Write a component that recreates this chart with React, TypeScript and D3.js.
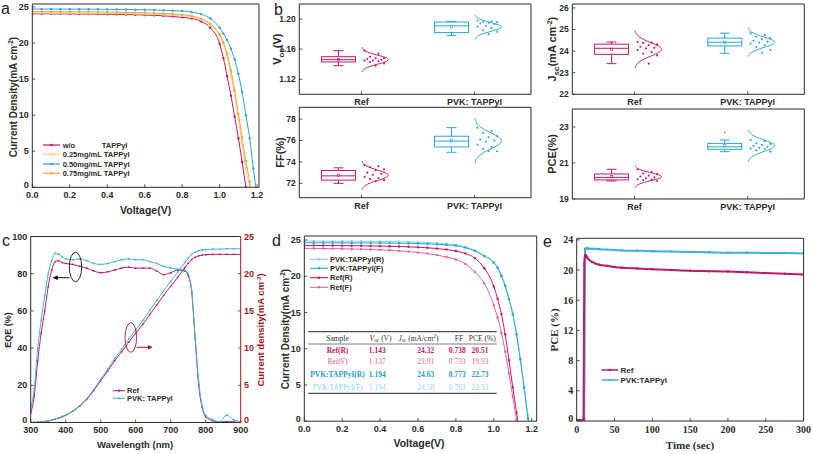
import React from "react";
import * as d3 from "d3";

const SANS = "'Liberation Sans', Arial, Helvetica, sans-serif";
const SERIF = "'Liberation Serif', 'Times New Roman', serif";
const INK = "#2b2b2b";

const C_RED = "#C4176B";
const C_CYAN = "#2AA5D6";
const C_YEL = "#F4D676";
const C_ORG = "#F1A43E";
const C_LCYAN = "#84D2EC";
const C_PINK = "#DE62A0";
const C_DRED = "#A0181E";

// ---------- panel a : J-V for TAPPyI concentrations ----------
const aVoltage = [0, 0.05, 0.1, 0.15, 0.2, 0.25, 0.3, 0.35, 0.4, 0.45, 0.5, 0.55, 0.6, 0.65, 0.7, 0.75, 0.8, 0.85, 0.9, 0.95, 1.0, 1.02, 1.04, 1.06, 1.08, 1.1, 1.12, 1.14, 1.16, 1.18, 1.2];
const aWo = [24.05, 24.05, 24.04, 24.04, 24.03, 24.02, 24.01, 24.0, 23.98, 23.96, 23.94, 23.91, 23.87, 23.82, 23.76, 23.67, 23.55, 23.38, 23.0, 22.1, 19.9, 17.9, 15.4, 12.7, 9.8, 6.8, 3.5, 0.0, null, null, null];
const a025 = [24.15, 24.15, 24.15, 24.14, 24.14, 24.13, 24.12, 24.11, 24.1, 24.08, 24.06, 24.04, 24.01, 23.97, 23.92, 23.85, 23.75, 23.58, 23.2, 22.5, 21.0, 19.8, 18.0, 15.6, 12.7, 9.4, 6.0, 2.7, 0.0, null, null];
const a050 = [24.7, 24.7, 24.7, 24.69, 24.69, 24.68, 24.68, 24.67, 24.66, 24.65, 24.64, 24.62, 24.6, 24.57, 24.53, 24.48, 24.42, 24.28, 24.0, 23.4, 22.1, 21.3, 20.4, 19.2, 17.7, 15.7, 13.2, 10.0, 6.8, 2.6, -1.5];
const a075 = [24.35, 24.35, 24.34, 24.34, 24.33, 24.32, 24.31, 24.3, 24.28, 24.26, 24.24, 24.21, 24.18, 24.14, 24.08, 24.01, 23.92, 23.75, 23.38, 22.65, 21.2, 20.1, 18.5, 16.2, 13.4, 10.2, 6.9, 3.6, 0.8, -3.0, null];
const aLabels = ["0.25mg/mL TAPPyI", "0.50mg/mL TAPPyI", "0.75mg/mL TAPPyI"];
const aXTicks = [0, 0.2, 0.4, 0.6, 0.8, 1.0, 1.2];
const aYTicks = [0, 5, 10, 15, 20, 25];

// ---------- panel b : statistics ----------
const bCategories = ["Ref", "PVK: TAPPyI"];
const vocBoxes = [[1.138, 1.143, 1.146, 1.150, 1.158], [1.178, 1.182, 1.191, 1.196, 1.197]];
const vocMeans = [1.146, 1.1895];
const vocSds = [0.0059, 0.0059];
const vocRefDots = [1.158, 1.154, 1.150, 1.148, 1.148, 1.147, 1.146, 1.145, 1.145, 1.144, 1.143, 1.141, 1.138];
const vocPvkDots = [1.198, 1.197, 1.196, 1.196, 1.195, 1.194, 1.193, 1.191, 1.190, 1.188, 1.185, 1.183, 1.180];
const vocTicks = [1.12, 1.16, 1.20];

const jscBoxes = [[23.42, 23.85, 24.13, 24.32, 24.42], [23.9, 24.24, 24.41, 24.6, 24.83]];
const jscMeans = [24.08, 24.41];
const jscSds = [0.31, 0.24];
const jscRefDots = [24.42, 24.40, 24.38, 24.32, 24.28, 24.20, 24.15, 24.12, 24.05, 23.95, 23.88, 23.80, 23.42];
const jscPvkDots = [24.82, 24.75, 24.66, 24.60, 24.55, 24.48, 24.44, 24.40, 24.35, 24.28, 24.20, 24.05, 23.92];
const jscTicks = [22, 23, 24, 25, 26];

const ffBoxes = [[72.0, 72.3, 72.7, 73.2, 73.45], [74.9, 75.4, 75.95, 76.4, 77.2]];
const ffMeans = [72.75, 75.97];
const ffSds = [0.48, 0.75];
const ffRefDots = [73.7, 73.6, 73.5, 73.3, 73.2, 73.0, 72.9, 72.8, 72.6, 72.5, 72.4, 72.3, 72.2];
const ffPvkDots = [77.2, 76.9, 76.7, 76.4, 76.3, 76.1, 76.0, 75.9, 75.6, 75.4, 75.2, 75.0, 75.0];
const ffTicks = [72, 74, 76, 78];

const pceBoxes = [[20.0, 20.06, 20.2, 20.39, 20.65], [21.63, 21.76, 21.9, 22.09, 22.28]];
const pceMeans = [20.24, 21.96];
const pceSds = [0.22, 0.32];
const pceRefDots = [20.65, 20.5, 20.42, 20.38, 20.3, 20.25, 20.2, 20.15, 20.1, 20.08, 20.05, 20.0];
const pcePvkDots = [22.28, 22.2, 22.1, 22.05, 22.0, 21.95, 21.9, 21.85, 21.8, 21.78, 21.7, 21.63];
const pceOutliers = [null, 22.7];
const pceTicks = [19, 21, 23];

// ---------- panel c : EQE ----------
const cWavelength = [300, 310, 320, 330, 340, 350, 360, 370, 380, 390, 400, 420, 440, 460, 480, 500, 520, 540, 560, 580, 600, 620, 640, 660, 680, 700, 720, 740, 750, 760, 770, 780, 790, 800, 820, 840, 860, 880, 900];
const cEqeRef = [5, 14, 33, 48, 60, 73, 82, 86.5, 87, 86, 85.5, 85, 84, 83, 81.5, 80.5, 81, 82, 83, 83.5, 83, 83, 83, 81.5, 79.5, 80.5, 82, 81.5, 79, 70, 45, 20, 8, 3, 1, 0.3, 0.5, 0.3, 0];
const cEqePvk = [8, 18, 40, 55, 68, 80, 87, 91, 90.5, 89, 88, 87.5, 88, 87, 85.5, 85, 85.5, 86.5, 87.5, 88, 87.5, 87.5, 86.5, 85.5, 84, 83, 82.5, 82, 80, 71, 45, 22, 9, 4, 1.5, 0.5, 4, 1.5, 0.5];
const cJRef = [0, 0.01, 0.03, 0.07, 0.13, 0.21, 0.32, 0.45, 0.6, 0.78, 0.95, 1.5, 2.2, 3.1, 4.3, 5.6, 6.9, 8.3, 9.5, 10.8, 12.0, 13.2, 14.5, 15.8, 17.1, 18.3, 19.5, 20.8, 21.4, 21.9, 22.2, 22.4, 22.5, 22.55, 22.6, 22.6, 22.6, 22.6, 22.6];
const cJPvk = [0, 0.01, 0.03, 0.07, 0.14, 0.22, 0.33, 0.47, 0.63, 0.81, 0.99, 1.55, 2.28, 3.2, 4.45, 5.8, 7.15, 8.6, 9.85, 11.2, 12.45, 13.7, 15.05, 16.4, 17.7, 18.95, 20.2, 21.5, 22.1, 22.6, 22.9, 23.1, 23.2, 23.25, 23.3, 23.3, 23.35, 23.35, 23.35];
const cXTicks = [300, 400, 500, 600, 700, 800, 900];
const cYTicks = [0, 20, 40, 60, 80, 100];
const cY2Ticks = [0, 5, 10, 15, 20, 25];
const cLabels = ["Ref", "PVK: TAPPyI"];

// ---------- panel d : hysteresis ----------
const dVoltage = aVoltage;
const dPvkR = [24.85, 24.85, 24.84, 24.84, 24.83, 24.83, 24.82, 24.81, 24.8, 24.78, 24.76, 24.73, 24.7, 24.65, 24.58, 24.48, 24.33, 24.05, 23.55, 22.8, 21.9, 21.1, 20.0, 18.6, 16.8, 14.8, 12.0, 8.6, 4.8, 0.8, -3];
const dPvkF = [24.62, 24.62, 24.62, 24.61, 24.61, 24.6, 24.6, 24.59, 24.58, 24.57, 24.55, 24.53, 24.5, 24.46, 24.4, 24.32, 24.2, 23.95, 23.5, 22.8, 21.9, 21.2, 20.1, 18.7, 16.9, 14.8, 12.0, 8.5, 4.6, 0.4, -3];
const dRefR = [24.25, 24.25, 24.24, 24.23, 24.22, 24.21, 24.2, 24.18, 24.16, 24.13, 24.1, 24.06, 24.0, 23.92, 23.82, 23.68, 23.48, 23.15, 22.5, 21.1, 18.6, 16.9, 14.8, 12.0, 8.4, 4.7, 1.2, -2.5, null, null, null];
const dRefF = [23.85, 23.84, 23.83, 23.81, 23.79, 23.76, 23.73, 23.69, 23.64, 23.58, 23.5, 23.4, 23.28, 23.12, 22.92, 22.65, 22.3, 21.7, 20.6, 19.0, 16.0, 14.3, 12.2, 9.6, 6.6, 3.4, 0.2, -3, null, null, null];
const dLabels = ["PVK:TAPPyI(R)", "PVK:TAPPyI(F)", "Ref(R)", "Ref(F)"];
const tSamples = ["Ref(R)", "Ref(F)", "PVK:TAPPyI(R)", "PVK:TAPPyI(F)"];
const tVoc = ["1.143", "1.137", "1.194", "1.194"];
const tJsc = ["24.32", "23.91", "24.63", "24.58"];
const tFF = ["0.738", "0.733", "0.773", "0.761"];
const tPCE = ["20.51", "19.93", "22.73", "22.33"];

// ---------- panel e : stabilized PCE ----------
const eTime = [0, 5, 9, 10, 11, 12, 13, 15, 20, 25, 30, 40, 50, 60, 80, 100, 125, 150, 175, 200, 225, 250, 275, 300];
const eRef = [0.1, 0.1, 0.2, 20.8, 21.9, 22.0, 21.8, 21.5, 21.1, 20.85, 20.7, 20.55, 20.4, 20.3, 20.2, 20.1, 20.0, 19.9, 19.85, 19.8, 19.7, 19.6, 19.5, 19.4];
const ePvk = [0.1, 0.1, 0.1, 0.2, 22.8, 22.85, 22.85, 22.85, 22.8, 22.8, 22.75, 22.7, 22.65, 22.6, 22.55, 22.5, 22.45, 22.4, 22.35, 22.3, 22.3, 22.25, 22.25, 22.2];
const eLabels = ["Ref", "PVK:TAPPyI"];
const eXTicks = [0, 50, 100, 150, 200, 250, 300];
const eYTicks = [0, 4, 8, 12, 16, 20, 24];

type Sc = d3.ScaleLinear<number, number>;

function Axes(p: { x: Sc; y: Sc; xTicks?: number[]; yTicks: number[]; xFmt?: (v: number) => string; yFmt?: (v: number) => string; font?: string; fs?: number; rightStroke?: string }) {
  const font = p.font ?? SANS;
  const fs = p.fs ?? 9;
  const [x0, x1] = p.x.range();
  const [y0, y1] = p.y.range();
  const lo = p.y.domain()[0];
  return (
    <g fontFamily={font} fontWeight="bold" fontSize={fs} fill={INK}>
      {(p.xTicks ?? []).map((t) => (
        <g key={"x" + t}>
          <line x1={p.x(t)} x2={p.x(t)} y1={y0} y2={y0 - 3} stroke={INK} strokeWidth={0.8} />
          <text x={p.x(t)} y={y0 + fs + 1.5} textAnchor="middle">{p.xFmt ? p.xFmt(t) : String(t)}</text>
        </g>
      ))}
      {p.yTicks.map((t) => (
        <g key={"y" + t}>
          <line x1={x0} x2={x0 + 3} y1={p.y(t)} y2={p.y(t)} stroke={INK} strokeWidth={0.8} />
          <text x={x0 - 3.5} y={p.y(t) - (t === lo && p.xTicks ? 2.5 : 0)} dy="0.35em" textAnchor="end">{p.yFmt ? p.yFmt(t) : String(t)}</text>
        </g>
      ))}
      <path d={`M${x1},${y0}L${x0},${y0}L${x0},${y1}L${x1},${y1}`} fill="none" stroke={INK} strokeWidth={1} />
      <line x1={x1} x2={x1} y1={y0} y2={y1} stroke={p.rightStroke ?? INK} strokeWidth={1} />
    </g>
  );
}

function Curve(p: { xs: number[]; ys: (number | null)[]; x: Sc; y: Sc; color: string; r?: number; w?: number; clip: string }) {
  const pts = p.xs.map((v, i) => [v, p.ys[i]] as [number, number | null]);
  const line = d3.line<[number, number | null]>()
    .defined((d) => d[1] != null)
    .x((d) => p.x(d[0]))
    .y((d) => p.y(d[1] as number))
    .curve(d3.curveMonotoneX);
  return (
    <g clipPath={`url(#${p.clip})`}>
      <path d={line(pts) ?? ""} fill="none" stroke={p.color} strokeWidth={p.w ?? 1} />
      {pts.filter((d) => d[1] != null).map((d, i) => (
        <circle key={i} cx={p.x(d[0])} cy={p.y(d[1] as number)} r={p.r ?? 1.3} fill={p.color} />
      ))}
    </g>
  );
}

function ClipRect({ id, x, y }: { id: string; x: Sc; y: Sc }) {
  const [x0, x1] = x.range();
  const [y0, y1] = y.range();
  return (
    <clipPath id={id}>
      <rect x={x0} y={y1} width={x1 - x0} height={y0 - y1} />
    </clipPath>
  );
}

function BoxPanel(p: {
  L: number; R: number; T: number; B: number; domain: [number, number]; ticks: number[]; fmt: (v: number) => string;
  boxes: number[][]; means: number[]; sds: number[]; dots: number[][]; outliers?: (number | null)[];
  label: React.ReactNode; labelX: number;
}) {
  const x = d3.scaleLinear().domain([0.45, 2.5]).range([p.L, p.R]);
  const y = d3.scaleLinear().domain(p.domain).range([p.B, p.T]);
  const colors = [C_RED, C_CYAN];
  const zs = d3.range(-2.8, 2.801, 0.1);
  return (
    <g>
      <Axes x={x} y={y} yTicks={p.ticks} yFmt={p.fmt} fs={8.5} />
      {bCategories.map((c, i) => {
        const cx = x(i + 1);
        const bx = cx - 23;
        const [mn, q1, md, q3, mx] = p.boxes[i];
        const col = colors[i];
        const curve = d3.line<number>()
          .x((z) => cx + Math.exp((-z * z) / 2) * 27)
          .y((z) => y(p.means[i] + z * p.sds[i]))
          .curve(d3.curveBasis)(zs);
        const out = p.outliers ? p.outliers[i] : null;
        return (
          <g key={c}>
            <line x1={cx} x2={cx} y1={p.B} y2={p.B - 3} stroke={INK} strokeWidth={0.8} />
            <text x={cx} y={p.B + 10.8} textAnchor="middle" fontFamily={SANS} fontWeight="bold" fontSize={9} fill={INK}>{c}</text>
            <g stroke={col} fill="none" strokeWidth={1}>
              <line x1={bx} x2={bx} y1={y(q3)} y2={y(mx)} />
              <line x1={bx} x2={bx} y1={y(q1)} y2={y(mn)} />
              <line x1={bx - 5} x2={bx + 5} y1={y(mx)} y2={y(mx)} />
              <line x1={bx - 5} x2={bx + 5} y1={y(mn)} y2={y(mn)} />
              <rect x={bx - 17} y={y(q3)} width={34} height={y(q1) - y(q3)} fill="white" />
              <line x1={bx - 17} x2={bx + 17} y1={y(md)} y2={y(md)} />
              <rect x={bx - 1.2} y={y(p.means[i]) - 1.2} width={2.4} height={2.4} strokeWidth={0.6} />
              <path d={curve ?? ""} />
            </g>
            {out != null && <circle cx={bx} cy={y(out)} r={0.9} fill={col} />}
            {p.dots[i].map((v, j) => (
              <circle key={j} cx={cx + 3 + ((j * 5) % 8) * 2.8} cy={y(v)} r={1.05} fill={col} />
            ))}
          </g>
        );
      })}
      <text transform={`translate(${p.labelX},${(p.T + p.B) / 2}) rotate(-90)`} textAnchor="middle" fontFamily={SANS} fontWeight="bold" fontSize={11} fill={INK}>{p.label}</text>
    </g>
  );
}

export default function App() {
  // panel a
  const ax = d3.scaleLinear().domain([0, 1.21]).range([32.3, 259]);
  const ay = d3.scaleLinear().domain([0, 25.4]).range([187.3, 4]);
  const aSeries = [
    { ys: aWo, color: C_RED },
    { ys: a025, color: C_YEL },
    { ys: a050, color: C_CYAN },
    { ys: a075, color: C_ORG },
  ];
  // panel c
  const cx = d3.scaleLinear().domain([300, 900]).range([30.7, 240.7]);
  const cy = d3.scaleLinear().domain([0, 100]).range([422.5, 236.5]);
  const cy2 = d3.scaleLinear().domain([0, 25]).range([422.5, 236.5]);
  // panel d
  const dx = d3.scaleLinear().domain([0, 1.2264]).range([304.3, 536.7]);
  const dy = d3.scaleLinear().domain([0, 25.55]).range([421.2, 236]);
  const dSeries = [
    { ys: dPvkR, color: C_LCYAN },
    { ys: dPvkF, color: C_CYAN },
    { ys: dRefR, color: C_RED },
    { ys: dRefF, color: C_PINK },
  ];
  const tColors = [C_RED, C_PINK, "#1E9DCF", "#8FD5EE"];
  const tCols = [337.5, 378, 420, 458, 481.5];
  // panel e
  const ex = d3.scaleLinear().domain([0, 300]).range([576.7, 803.6]);
  const ey = d3.scaleLinear().domain([0, 24.2]).range([421, 238.3]);

  const f1 = (v: number) => v.toFixed(1);
  const f2 = (v: number) => v.toFixed(2);
  const f0 = (v: number) => String(v);

  return (
    <div style={{ position: "absolute", left: 0, top: 0 }}>
      <svg width={813} height={454} xmlns="http://www.w3.org/2000/svg" style={{ display: "block", background: "white" }}>
        <defs>
          <ClipRect id="clipA" x={ax} y={ay} />
          <ClipRect id="clipC" x={cx} y={cy} />
          <ClipRect id="clipD" x={dx} y={dy} />
          <ClipRect id="clipE" x={ex} y={ey} />
          <marker id="arrK" viewBox="0 0 6 6" refX="5" refY="3" markerWidth="5" markerHeight="5" orient="auto">
            <path d="M0,0L6,3L0,6z" fill="#111" />
          </marker>
          <marker id="arrR" viewBox="0 0 6 6" refX="5" refY="3" markerWidth="5" markerHeight="5" orient="auto">
            <path d="M0,0L6,3L0,6z" fill={C_DRED} />
          </marker>
        </defs>

        {/* panel letters */}
        <g fontFamily={SANS} fontSize={16} fill="#222">
          <text x={1} y={14}>a</text>
          <text x={274} y={15}>b</text>
          <text x={2} y={246}>c</text>
          <text x={272} y={246}>d</text>
          <text x={543} y={247}>e</text>
        </g>

        {/* ---------------- a ---------------- */}
        <g>
          {aSeries.map((s, i) => (
            <Curve key={i} xs={aVoltage} ys={s.ys} x={ax} y={ay} color={s.color} clip="clipA" r={1.2} />
          ))}
          <Axes x={ax} y={ay} xTicks={aXTicks} yTicks={aYTicks} xFmt={f1} fs={9} />
          <text x={145.6} y={213.5} textAnchor="middle" fontFamily={SANS} fontWeight="bold" fontSize={10.5} fill={INK}>Voltage(V)</text>
          <text transform="translate(16.5,97) rotate(-90)" textAnchor="middle" fontFamily={SANS} fontWeight="bold" fontSize={10} fill={INK}>
            Current Density(mA cm<tspan dy={-3.5} fontSize={6.5}>-2</tspan><tspan dy={3.5}>)</tspan>
          </text>
          <g fontFamily={SANS} fontWeight="bold" fontSize={7.5} fill={INK}>
            {aSeries.map((s, i) => {
              const yy = [145, 154.3, 164, 173.3][i];
              return (
                <g key={i}>
                  <line x1={43} x2={60} y1={yy} y2={yy} stroke={s.color} strokeWidth={1.2} />
                  <circle cx={51.5} cy={yy} r={1.3} fill={s.color} />
                  {i === 0 ? (
                    <>
                      <text x={62.7} y={yy + 2.7}>w/o</text>
                      <text x={101.7} y={yy + 2.7}>TAPPyI</text>
                    </>
                  ) : (
                    <text x={62.7} y={yy + 2.7}>{aLabels[i - 1]}</text>
                  )}
                </g>
              );
            })}
          </g>
        </g>

        {/* ---------------- b ---------------- */}
        <BoxPanel L={299.3} R={531} T={4} B={94.3} domain={[1.10, 1.22]} ticks={vocTicks} fmt={f2}
          boxes={vocBoxes} means={vocMeans} sds={vocSds} dots={[vocRefDots, vocPvkDots]} labelX={281}
          label={<>V<tspan dy={3} fontSize={8}>oc</tspan><tspan dy={-3}>(V)</tspan></>} />
        <BoxPanel L={299.3} R={531} T={107.3} B={197.7} domain={[70.66, 79.1]} ticks={ffTicks} fmt={f0}
          boxes={ffBoxes} means={ffMeans} sds={ffSds} dots={[ffRefDots, ffPvkDots]} labelX={284}
          label={<>FF(%)</>} />
        <BoxPanel L={572.3} R={804.3} T={4} B={94.3} domain={[22, 26.18]} ticks={jscTicks} fmt={f0}
          boxes={jscBoxes} means={jscMeans} sds={jscSds} dots={[jscRefDots, jscPvkDots]} labelX={555.5}
          label={<>J<tspan dy={3} fontSize={8}>sc</tspan><tspan dy={-3}>(mA cm</tspan><tspan dy={-3.5} fontSize={7}>-2</tspan><tspan dy={3.5}>)</tspan></>} />
        <BoxPanel L={572.3} R={804.3} T={109} B={199} domain={[19, 24]} ticks={pceTicks} fmt={f0}
          boxes={pceBoxes} means={pceMeans} sds={pceSds} dots={[pceRefDots, pcePvkDots]} outliers={pceOutliers} labelX={555.5}
          label={<>PCE(%)</>} />

        {/* ---------------- c ---------------- */}
        <g>
          <Curve xs={cWavelength} ys={cEqeRef} x={cx} y={cy} color={C_RED} clip="clipC" r={0.9} />
          <Curve xs={cWavelength} ys={cEqePvk} x={cx} y={cy} color={"#3DB3DE"} clip="clipC" r={0.9} />
          <Curve xs={cWavelength} ys={cJRef} x={cx} y={cy2} color={C_RED} clip="clipC" r={0.9} />
          <Curve xs={cWavelength} ys={cJPvk} x={cx} y={cy2} color={"#3DB3DE"} clip="clipC" r={0.9} />
          <Axes x={cx} y={cy} xTicks={cXTicks} yTicks={cYTicks} fs={9} rightStroke={C_DRED} />
          <g fontFamily={SANS} fontWeight="bold" fontSize={9} fill={C_DRED}>
            {cY2Ticks.map((t) => (
              <g key={t}>
                <line x1={240.7} x2={237.7} y1={cy2(t)} y2={cy2(t)} stroke={C_DRED} strokeWidth={0.8} />
                <text x={244} y={cy2(t) - (t === 0 ? 2.5 : 0)} dy="0.35em">{t}</text>
              </g>
            ))}
            <text transform="translate(264,330) rotate(-90)" textAnchor="middle" fontSize={9.5}>
              Current density(mA cm<tspan dy={-3} fontSize={6}>-2</tspan><tspan dy={3}>)</tspan>
            </text>
          </g>
          <text x={135} y={448} textAnchor="middle" fontFamily={SANS} fontWeight="bold" fontSize={9.5} fill={INK}>Wavelength (nm)</text>
          <text transform="translate(11,330) rotate(-90)" textAnchor="middle" fontFamily={SANS} fontWeight="bold" fontSize={9} fill={INK}>EQE (%)</text>
          <ellipse cx={75.5} cy={267} rx={6.2} ry={14.7} fill="none" stroke="#111" strokeWidth={0.9} />
          <line x1={69.3} y1={277.7} x2={53.5} y2={277.7} stroke="#111" strokeWidth={1} markerEnd="url(#arrK)" />
          <ellipse cx={130.8} cy={337.5} rx={5.8} ry={14.8} fill="none" stroke={C_DRED} strokeWidth={0.9} />
          <line x1={136.6} y1={347.3} x2={151.7} y2={347.3} stroke={C_DRED} strokeWidth={1} markerEnd="url(#arrR)" />
          <g fontFamily={SANS} fontWeight="bold" fontSize={7.5} fill={INK}>
            {[C_RED, "#3DB3DE"].map((col, i) => {
              const yy = [390.7, 398.3][i];
              return (
                <g key={i}>
                  <line x1={113} x2={125} y1={yy} y2={yy} stroke={col} strokeWidth={1.1} />
                  <circle cx={119} cy={yy} r={1.1} fill={col} />
                  <text x={127} y={yy + 2.6}>{cLabels[i]}</text>
                </g>
              );
            })}
          </g>
        </g>

        {/* ---------------- d ---------------- */}
        <g>
          {dSeries.map((s, i) => (
            <Curve key={i} xs={dVoltage} ys={s.ys} x={dx} y={dy} color={s.color} clip="clipD" r={1.2} />
          ))}
          <Axes x={dx} y={dy} xTicks={aXTicks} yTicks={aYTicks} xFmt={f1} fs={9} />
          <text x={419} y={447} textAnchor="middle" fontFamily={SANS} fontWeight="bold" fontSize={10.5} fill={INK}>Voltage(V)</text>
          <text transform="translate(288.5,329) rotate(-90)" textAnchor="middle" fontFamily={SANS} fontWeight="bold" fontSize={10} fill={INK}>
            Current Density(mA cm<tspan dy={-3.5} fontSize={6.5}>-2</tspan><tspan dy={3.5}>)</tspan>
          </text>
          <g fontFamily={SANS} fontWeight="bold" fontSize={7.5} fill={INK}>
            {dSeries.map((s, i) => {
              const yy = [259.3, 268.3, 277.7, 287.3][i];
              return (
                <g key={i}>
                  <line x1={310} x2={328} y1={yy} y2={yy} stroke={s.color} strokeWidth={1.1} />
                  <circle cx={319} cy={yy} r={1.2} fill={s.color} />
                  <text x={330} y={yy + 2.6}>{dLabels[i]}</text>
                </g>
              );
            })}
          </g>
          {/* table */}
          <g fontFamily={SERIF} fontSize={7.5}>
            <line x1={308.3} x2={496.7} y1={331.7} y2={331.7} stroke="#222" strokeWidth={1} />
            <line x1={308.3} x2={496.7} y1={344} y2={344} stroke="#222" strokeWidth={0.6} />
            <line x1={308.3} x2={496.7} y1={393.3} y2={393.3} stroke="#222" strokeWidth={1} />
            <g fill="#333" textAnchor="middle">
              <text x={tCols[0]} y={340.8}>Sample</text>
              <text x={380.5} y={340.8}><tspan fontStyle="italic">V</tspan><tspan fontSize={5.5} dy={1.5}>oc</tspan><tspan dy={-1.5}> (V)</tspan></text>
              <text x={418.5} y={340.8}><tspan fontStyle="italic">J</tspan><tspan fontSize={5.5} dy={1.5}>sc</tspan><tspan dy={-1.5}> (mA/cm</tspan><tspan fontSize={5.5} dy={-2.5}>2</tspan><tspan dy={2.5}>)</tspan></text>
              <text x={459} y={340.8}>FF</text>
              <text x={482.3} y={340.8}>PCE (%)</text>
            </g>
            {tSamples.map((s, i) => {
              const yy = [350.7, 361.7, 374, 387.3][i] + 2.7;
              return (
                <g key={s} fill={tColors[i]} textAnchor="middle" fontWeight={i === 0 || i === 2 ? "bold" : "normal"}>
                  <text x={tCols[0]} y={yy}>{s}</text>
                  <text x={377.3} y={yy}>{tVoc[i]}</text>
                  <text x={425.7} y={yy}>{tJsc[i]}</text>
                  <text x={457.3} y={yy}>{tFF[i]}</text>
                  <text x={480} y={yy}>{tPCE[i]}</text>
                </g>
              );
            })}
          </g>
        </g>

        {/* ---------------- e ---------------- */}
        <g>
          <Curve xs={eTime} ys={ePvk} x={ex} y={ey} color={"#3BB0D8"} clip="clipE" r={1.2} w={2} />
          <Curve xs={eTime} ys={eRef} x={ex} y={ey} color={"#C0186A"} clip="clipE" r={1.2} w={2} />
          <Axes x={ex} y={ey} xTicks={eXTicks} yTicks={eYTicks} font={SERIF} fs={10} />
          <text x={690} y={448.5} textAnchor="middle" fontFamily={SERIF} fontWeight="bold" fontSize={11} fill={INK}>Time (sec)</text>
          <text transform="translate(557.5,330) rotate(-90)" textAnchor="middle" fontFamily={SERIF} fontWeight="bold" fontSize={11} fill={INK}>PCE (%)</text>
          <g fontFamily={SANS} fontWeight="bold" fontSize={8} fill={INK}>
            {["#C0186A", "#3BB0D8"].map((col, i) => {
              const yy = [370, 380][i];
              return (
                <g key={i}>
                  <line x1={601.7} x2={618.3} y1={yy} y2={yy} stroke={col} strokeWidth={1.5} />
                  <circle cx={610} cy={yy} r={1.3} fill={col} />
                  <text x={620.5} y={yy + 2.8}>{eLabels[i]}</text>
                </g>
              );
            })}
          </g>
        </g>
      </svg>
    </div>
  );
}
